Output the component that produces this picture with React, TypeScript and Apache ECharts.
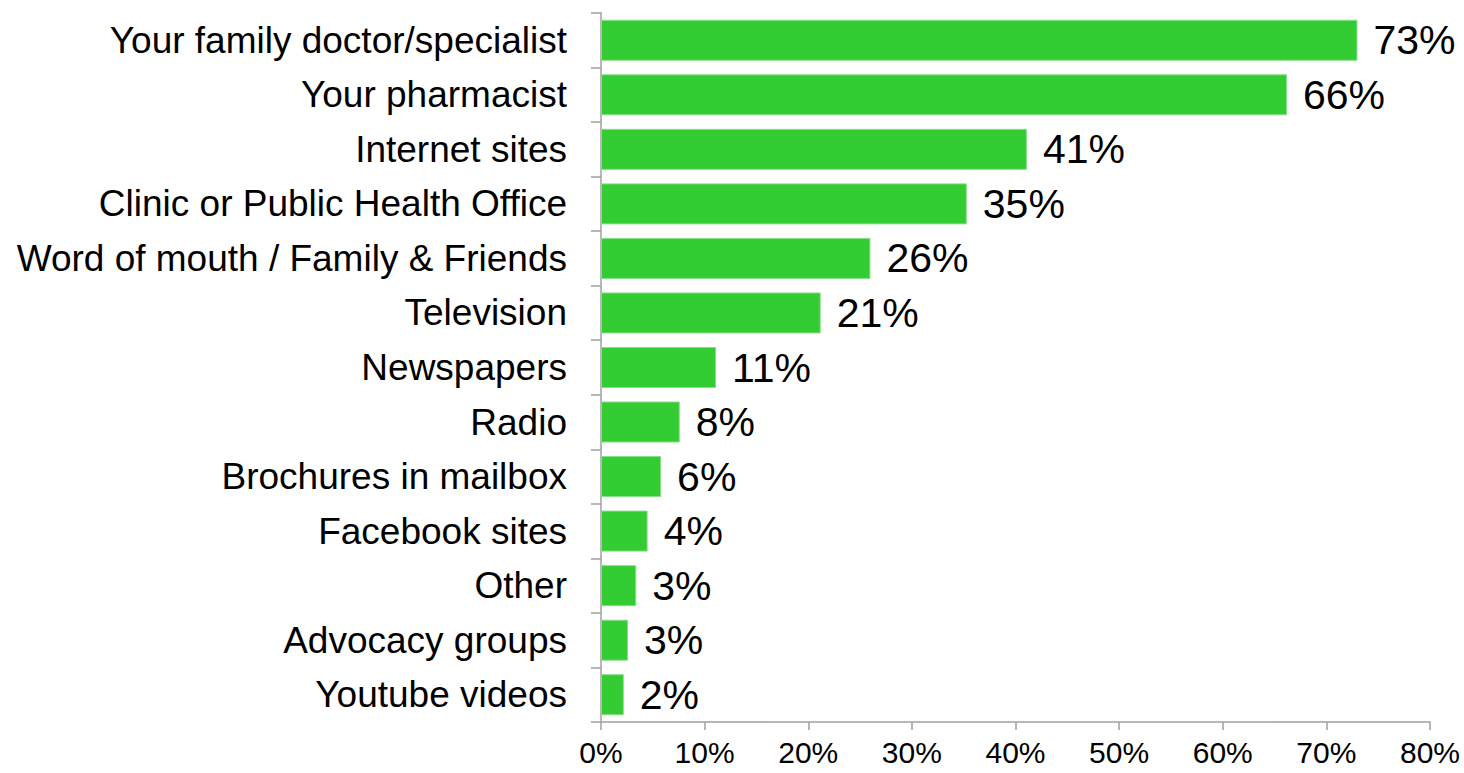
import React, { useEffect, useRef } from "react";
import * as echarts from "echarts";

const categories = [
  "Your family doctor/specialist",
  "Your pharmacist",
  "Internet sites",
  "Clinic or Public Health Office",
  "Word of mouth / Family & Friends",
  "Television",
  "Newspapers",
  "Radio",
  "Brochures in mailbox",
  "Facebook sites",
  "Other",
  "Advocacy groups",
  "Youtube videos",
];
const values = [73.0, 66.2, 41.1, 35.3, 26.0, 21.2, 11.1, 7.6, 5.8, 4.5, 3.4, 2.6, 2.2];
const labels = ["73%", "66%", "41%", "35%", "26%", "21%", "11%", "8%", "6%", "4%", "3%", "3%", "2%"];
const xTicks = [0, 10, 20, 30, 40, 50, 60, 70, 80];

export default function App() {
  const ref = useRef<HTMLDivElement>(null);
  useEffect(() => {
    const chart = echarts.init(ref.current!, null, { renderer: "svg" });
    const font = "Liberation Sans, Arial, sans-serif";
    chart.setOption({
      animation: false,
      grid: { left: 601, right: 34, top: 13, bottom: 51, containLabel: false },
      xAxis: {
        type: "value",
        min: xTicks[0],
        max: xTicks[xTicks.length - 1],
        interval: 10,
        splitLine: { show: false },
        axisLine: { show: true, lineStyle: { color: "#a0a0a0", width: 1.5 } },
        axisTick: { show: true, length: 8, lineStyle: { color: "#a0a0a0", width: 1.5 } },
        axisLabel: { formatter: "{value}%", color: "#000", fontSize: 30, lineHeight: 30, fontFamily: font, margin: 15 },
      },
      yAxis: {
        type: "category",
        inverse: true,
        data: categories,
        axisLine: { show: true, lineStyle: { color: "#a0a0a0", width: 1.5 } },
        axisTick: { show: true, length: 10, lineStyle: { color: "#a0a0a0", width: 1.5 } },
        axisLabel: { color: "#000", fontSize: 37, fontFamily: font, margin: 34 },
      },
      series: [
        {
          type: "bar",
          data: values,
          barWidth: 41,
          itemStyle: { color: "#33CC33", borderColor: "#88dd88", borderWidth: 1 },
          label: {
            show: true,
            position: "right",
            distance: 16,
            color: "#000",
            fontSize: 41,
            fontFamily: font,
            formatter: (p: any) => labels[p.dataIndex],
          },
        },
      ],
    });
    return () => chart.dispose();
  }, []);
  return <div ref={ref} style={{ width: 1464, height: 773, position: "absolute", left: 0, top: 0, background: "#fff" }} />;
}
